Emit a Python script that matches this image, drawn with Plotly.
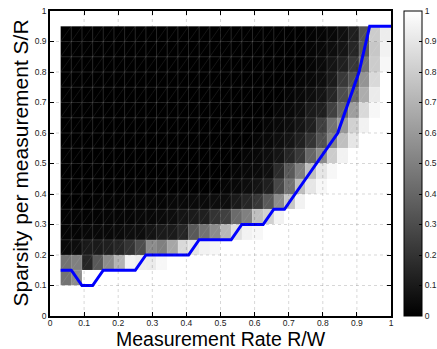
import plotly.graph_objects as go

# Cell edges of the phase-transition map
rate_edges = [0.03125, 0.0625, 0.09375, 0.125, 0.15625, 0.1875, 0.21875, 0.25,
              0.28125, 0.3125, 0.34375, 0.375, 0.40625, 0.4375, 0.46875, 0.5,
              0.53125, 0.5625, 0.59375, 0.625, 0.65625, 0.6875, 0.71875, 0.75,
              0.78125, 0.8125, 0.84375, 0.875, 0.90625, 0.9375, 0.96875, 1.0]
sparsity_edges = [0.10, 0.15, 0.20, 0.25, 0.30, 0.35, 0.40, 0.45, 0.50,
                  0.55, 0.60, 0.65, 0.70, 0.75, 0.80, 0.85, 0.90, 0.95]

# Success probability (percent), rows = sparsity bins (bottom->top), cols = rate bins
success_pct = [
    [45, 55, 100, 100, 100, 100, 100, 100, 100, 100,
     100, 100, 100, 100, 100, 100, 100, 100, 100, 100,
     100, 100, 100, 100, 100, 100, 100, 100, 100, 100, 100],
    [45, 50, 15, 35, 55, 70, 95, 93, 92, 97,
     100, 100, 100, 100, 100, 100, 100, 100, 100, 100,
     100, 100, 100, 100, 100, 100, 100, 100, 100, 100, 100],
    [3, 5, 10, 10, 12, 15, 20, 30, 55, 50,
     65, 85, 90, 95, 97, 100, 100, 100, 100, 100,
     100, 100, 100, 100, 100, 100, 100, 100, 100, 100, 100],
    [2, 2, 3, 3, 3, 4, 5, 5, 8, 10,
     10, 15, 35, 45, 55, 72, 88, 95, 97, 100,
     100, 100, 100, 100, 100, 100, 100, 100, 100, 100, 100],
    [1, 1, 1, 1, 2, 2, 2, 3, 3, 4,
     5, 8, 10, 12, 20, 25, 42, 50, 75, 82,
     95, 100, 100, 100, 100, 100, 100, 100, 100, 100, 100],
    [0, 0, 0, 1, 1, 1, 1, 2, 2, 2,
     3, 3, 4, 4, 5, 5, 10, 15, 22, 35,
     55, 78, 95, 100, 100, 100, 100, 100, 100, 100, 100],
    [0, 0, 0, 0, 0, 0, 0, 0, 0, 0,
     0, 0, 0, 0, 0, 2, 3, 5, 8, 12,
     28, 45, 75, 90, 97, 100, 100, 100, 100, 100, 100],
    [0, 0, 0, 0, 0, 0, 0, 0, 0, 0,
     0, 0, 0, 0, 0, 0, 2, 3, 4, 6,
     17, 35, 50, 75, 90, 97, 100, 100, 100, 100, 100],
    [0, 0, 0, 0, 0, 0, 0, 0, 0, 0,
     0, 0, 0, 0, 0, 0, 0, 2, 3, 5,
     8, 15, 22, 40, 55, 80, 95, 100, 100, 100, 100],
    [0, 0, 0, 0, 0, 0, 0, 0, 0, 0,
     0, 0, 0, 0, 0, 0, 0, 0, 2, 3,
     5, 8, 12, 20, 32, 52, 75, 90, 100, 100, 100],
    [0, 0, 0, 0, 0, 0, 0, 0, 0, 0,
     0, 0, 0, 0, 0, 0, 0, 0, 0, 2,
     3, 5, 8, 12, 25, 45, 60, 82, 95, 100, 100],
    [0, 0, 0, 0, 0, 0, 0, 0, 0, 0,
     0, 0, 0, 0, 0, 0, 0, 0, 0, 0,
     2, 3, 5, 10, 12, 25, 40, 62, 85, 97, 100],
    [0, 0, 0, 0, 0, 0, 0, 0, 0, 0,
     0, 0, 0, 0, 0, 0, 0, 0, 0, 0,
     0, 2, 3, 5, 8, 15, 30, 42, 68, 92, 100],
    [0, 0, 0, 0, 0, 0, 0, 0, 0, 0,
     0, 0, 0, 0, 0, 0, 0, 0, 0, 0,
     0, 0, 2, 3, 5, 10, 22, 32, 58, 85, 100],
    [0, 0, 0, 0, 0, 0, 0, 0, 0, 0,
     0, 0, 0, 0, 0, 0, 0, 0, 0, 0,
     0, 0, 0, 2, 4, 8, 12, 22, 45, 80, 97],
    [0, 0, 0, 0, 0, 0, 0, 0, 0, 0,
     0, 0, 0, 0, 0, 0, 0, 0, 0, 0,
     0, 0, 0, 2, 3, 5, 8, 15, 35, 78, 95],
    [0, 0, 0, 0, 0, 0, 0, 0, 0, 0,
     0, 0, 0, 0, 0, 0, 0, 0, 0, 0,
     0, 0, 0, 1, 2, 3, 6, 12, 32, 80, 93],
]

# Phase-transition boundary (blue curve), one point per rate edge
boundary_rate = rate_edges
boundary_sparsity = [0.15, 0.15, 0.10, 0.10, 0.15, 0.15, 0.15, 0.15,
                     0.20, 0.20, 0.20, 0.20, 0.20, 0.25, 0.25, 0.25,
                     0.25, 0.30, 0.30, 0.30, 0.35, 0.35, 0.40, 0.45,
                     0.50, 0.55, 0.60, 0.70, 0.80, 0.95, 0.95, 0.95]

tick_vals = [0, 0.1, 0.2, 0.3, 0.4, 0.5, 0.6, 0.7, 0.8, 0.9, 1]
tick_text = ["0", "0.1", "0.2", "0.3", "0.4", "0.5", "0.6", "0.7", "0.8", "0.9", "1"]

z = [[v / 100 for v in row] for row in success_pct]

FONT = "Liberation Sans, Arial, Helvetica, sans-serif"

fig = go.Figure()
fig.add_trace(go.Heatmap(
    x=rate_edges, y=sparsity_edges, z=z,
    zmin=0, zmax=1,
    colorscale=[[0, "#000000"], [1, "#ffffff"]],
    showscale=True, hoverinfo="skip",
    colorbar=dict(
        x=1.038, xanchor="left", xpad=0,
        y=0.5, yanchor="middle", ypad=0,
        len=305, lenmode="pixels",
        thickness=18, thicknessmode="pixels",
        outlinecolor="black", outlinewidth=1,
        tickvals=tick_vals, ticktext=tick_text,
        ticks="inside", ticklen=3, tickcolor="black",
        tickfont=dict(family=FONT, size=8.5, color="#222"),
    ),
))

# faceted-surface seams: cell borders and one diagonal per cell
mx, my = [], []
y0, y1 = sparsity_edges[0], sparsity_edges[-1]
x0, x1 = rate_edges[0], rate_edges[-1]
for xv in rate_edges[1:]:
    mx += [xv, xv, None]
    my += [y0, y1, None]
for yv in sparsity_edges[1:]:
    mx += [x0, x1, None]
    my += [yv, yv, None]
fig.add_trace(go.Scatter(x=mx, y=my, mode="lines",
                         line=dict(color="rgba(255,255,255,0.22)", width=0.7),
                         hoverinfo="skip", showlegend=False))
dx, dy = [], []
for j in range(len(sparsity_edges) - 1):
    for i in range(len(rate_edges) - 1):
        dx += [rate_edges[i], rate_edges[i + 1], None]
        dy += [sparsity_edges[j], sparsity_edges[j + 1], None]
fig.add_trace(go.Scatter(x=dx, y=dy, mode="lines",
                         line=dict(color="rgba(255,255,255,0.14)", width=0.6),
                         hoverinfo="skip", showlegend=False))

fig.add_trace(go.Scatter(x=boundary_rate, y=boundary_sparsity, mode="lines",
                         line=dict(color="#0000ff", width=3),
                         hoverinfo="skip", showlegend=False))

# dotted axis grid drawn on top (as in the original)
for v in tick_vals[1:-1]:
    fig.add_shape(type="line", xref="x", yref="y", x0=v, x1=v, y0=0, y1=1,
                  line=dict(color="rgba(0,0,0,0.2)", width=0.8, dash="dot"), layer="above")
    fig.add_shape(type="line", xref="x", yref="y", x0=0, x1=1, y0=v, y1=v,
                  line=dict(color="rgba(0,0,0,0.2)", width=0.8, dash="dot"), layer="above")

axis_common = dict(
    range=[0, 1], tickvals=tick_vals, ticktext=tick_text,
    ticks="inside", ticklen=4, tickcolor="black",
    showline=True, linecolor="black", linewidth=1.5, mirror="ticks",
    showgrid=False, zeroline=False,
    tickfont=dict(family=FONT, size=8.5, color="#222"),
    layer="above traces",
)
fig.update_xaxes(**axis_common, ticklabelstandoff=-2)
fig.update_yaxes(**axis_common)

fig.update_layout(
    width=437, height=349,
    margin=dict(l=50, r=46, t=11, b=33, autoexpand=False),
    plot_bgcolor="white", paper_bgcolor="white",
    showlegend=False,
    font=dict(family=FONT),
    annotations=[
        dict(text="Measurement Rate R/W", xref="paper", yref="paper",
             x=0.5, y=0, xanchor="center", yanchor="top", yshift=-11.2,
             borderpad=0,
             showarrow=False, font=dict(family=FONT, size=19.5, color="black")),
        dict(text="Sparsity per measurement S/R", xref="paper", yref="paper",
             x=0, y=0.5, xanchor="right", yanchor="middle", xshift=-17.5,
             borderpad=0, textangle=-90, showarrow=False,
             font=dict(family=FONT, size=21, color="black")),
    ],
)

fig.write_html("out.html",
               config={"displayModeBar": False},
               post_script="document.body.style.margin='0px';document.body.style.overflow='hidden';")
